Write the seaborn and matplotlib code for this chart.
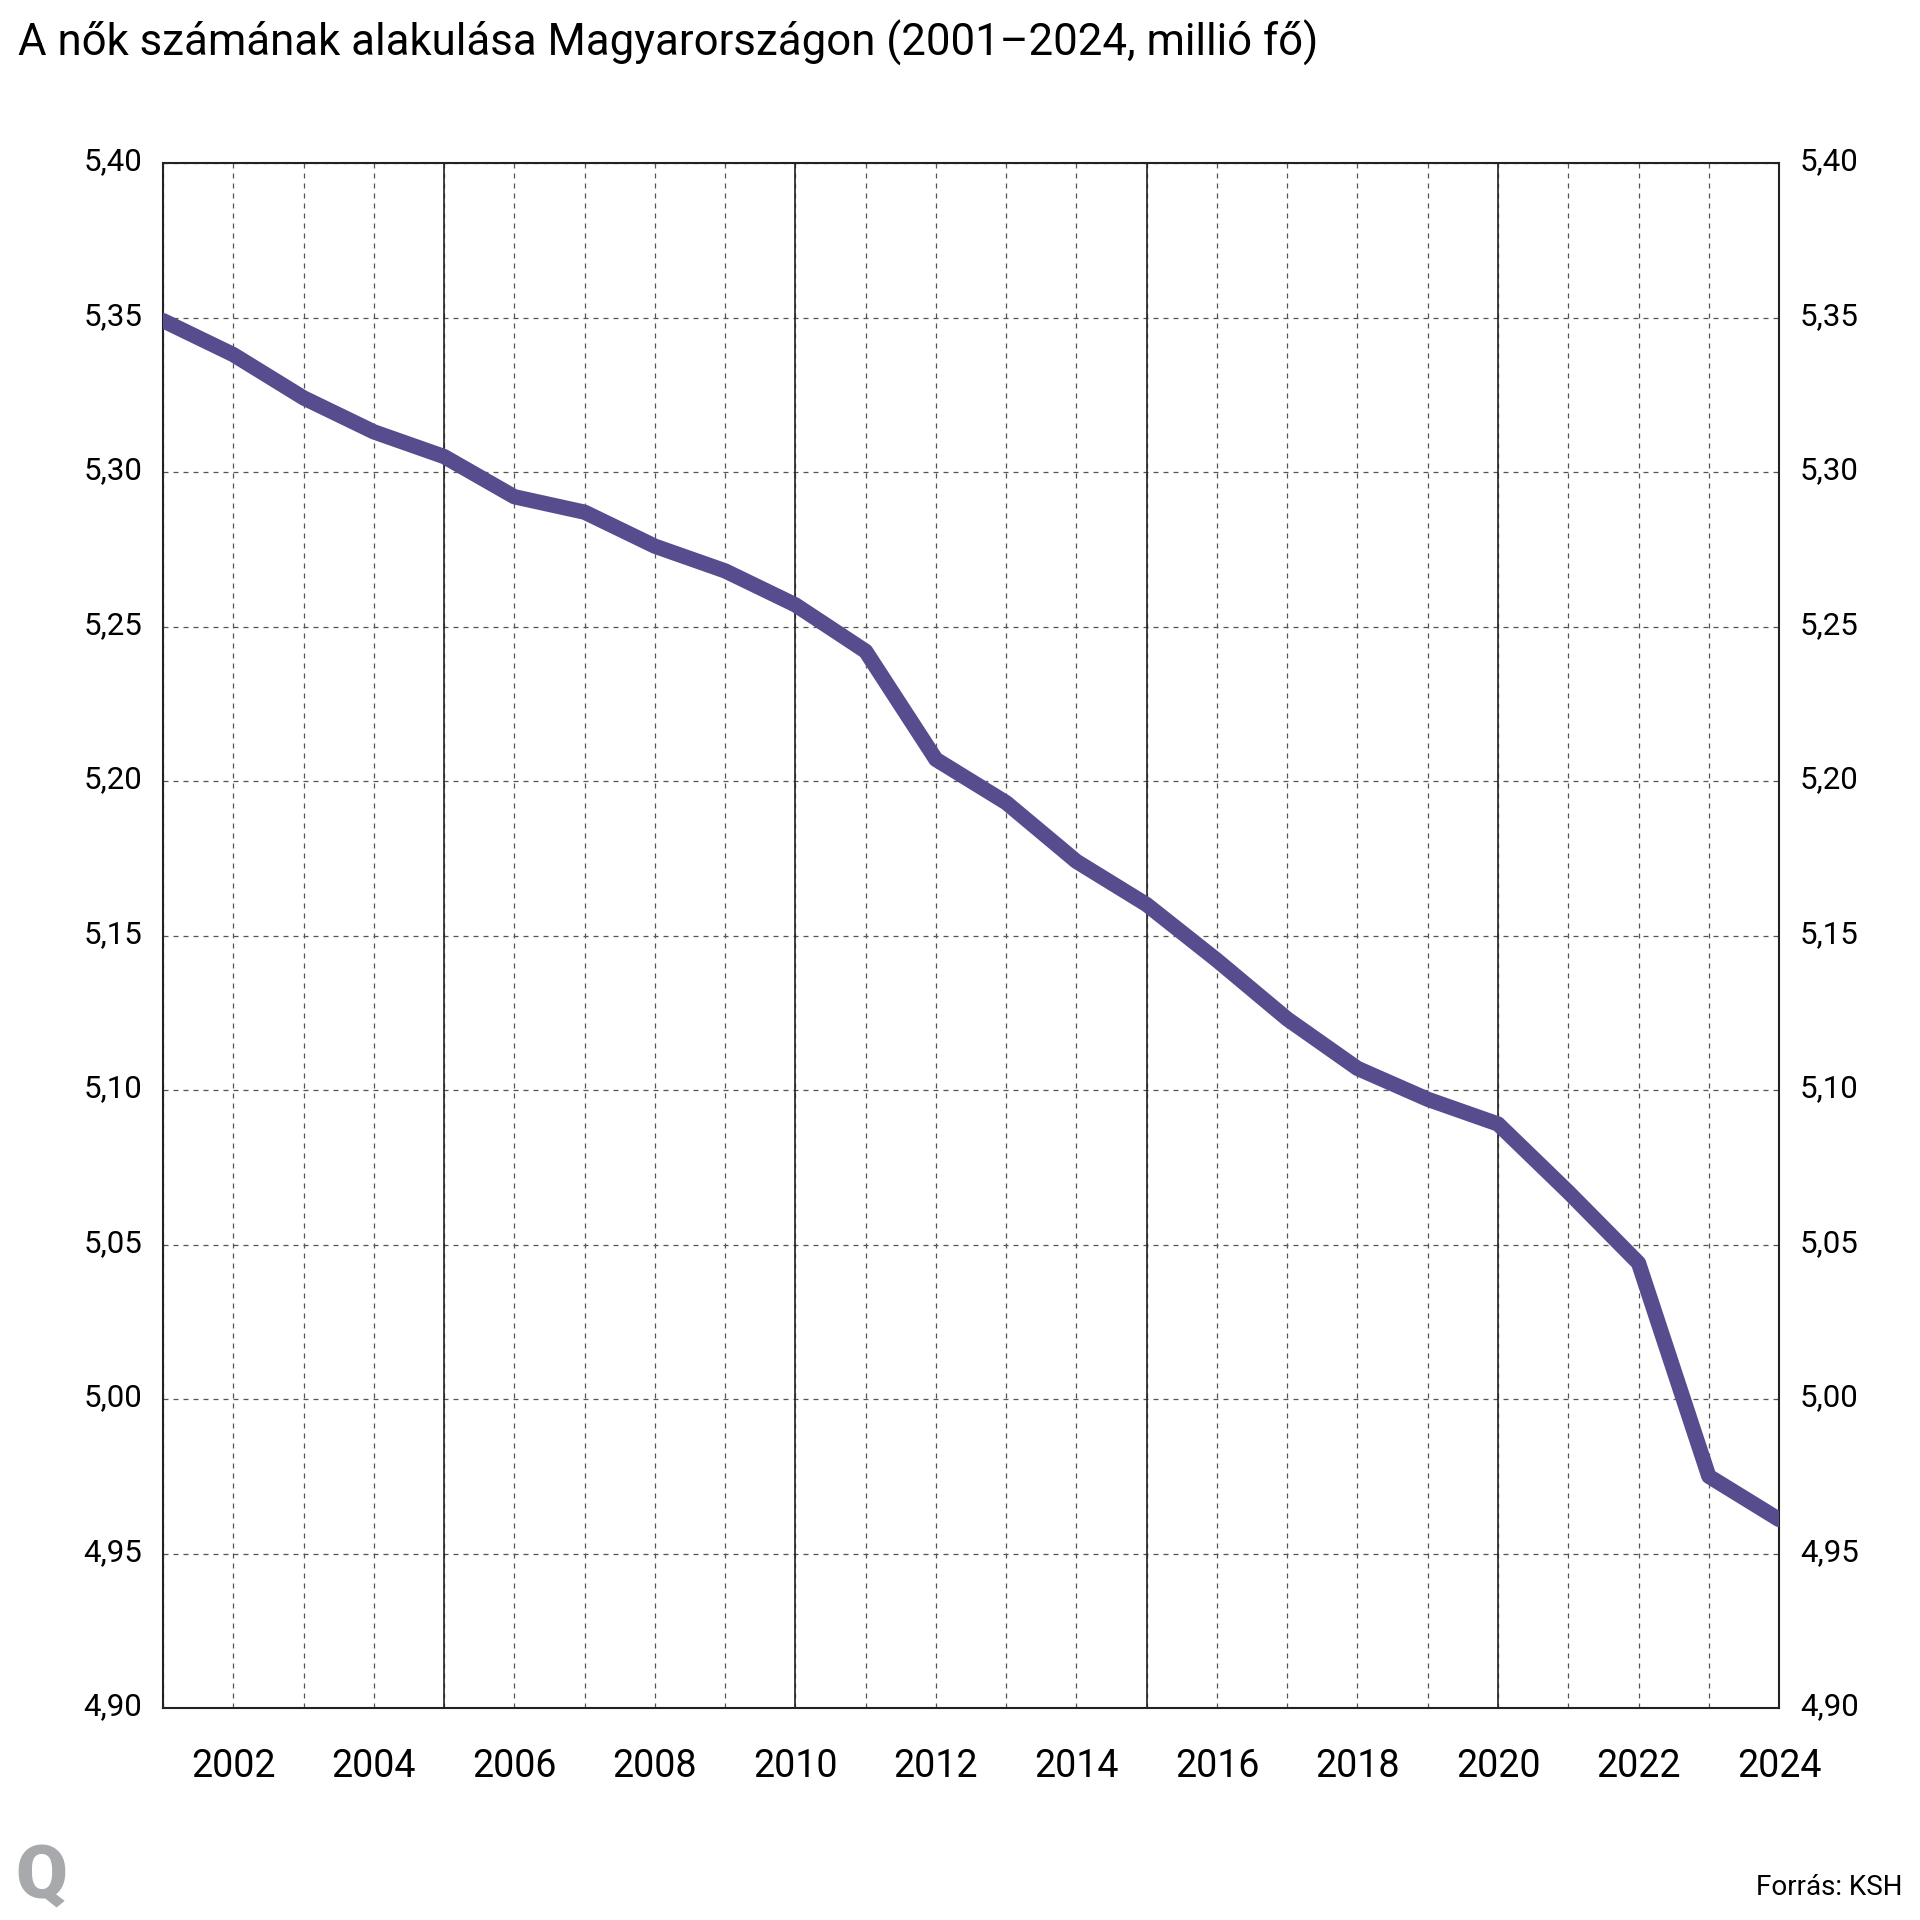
import pandas as pd
import matplotlib
matplotlib.use("Agg")
import matplotlib.pyplot as plt
import matplotlib.transforms as mtransforms
from matplotlib.ticker import FuncFormatter
import seaborn as sns

# Adatok (millió fő), leolvasva az ábráról
years = list(range(2001, 2025))
women = [5.349, 5.338, 5.324, 5.313, 5.305, 5.292, 5.287, 5.276, 5.268, 5.257,
         5.242, 5.207, 5.193, 5.174, 5.160, 5.142, 5.123, 5.107, 5.097, 5.089,
         5.067, 5.044, 4.975, 4.961]
label_years = list(range(2002, 2025, 2))
solid_years = [2005, 2010, 2015, 2020]
y_ticks = [4.90, 4.95, 5.00, 5.05, 5.10, 5.15, 5.20, 5.25, 5.30, 5.35, 5.40]

title = "A nők számának alakulása Magyarországon (2001\u20132024, millió fő)"
source = "Forrás: KSH"

df = pd.DataFrame({"ev": years, "nok": women})

sns.set_style("white")
plt.rcParams["font.family"] = ["Roboto", "DejaVu Sans"]

fig = plt.figure(figsize=(19.2, 19.2), dpi=100)
ax = fig.add_axes([0.0849, 0.1104, 0.8417, 0.8047])

# rácsvonalak
ax.set_xticks(label_years)
ax.set_xticks([y for y in years if y not in label_years], minor=True)
ax.set_yticks(y_ticks)
ax.grid(True, which="both", axis="x", color="#555555", linestyle=(0, (4, 4)), linewidth=0.9)
ax.grid(True, which="major", axis="y", color="#555555", linestyle=(0, (4, 4)), linewidth=0.9)
for yr in solid_years:
    ax.axvline(yr, color="#222222", linewidth=1.2, zorder=1.5)

sns.lineplot(data=df, x="ev", y="nok", ax=ax, color="#574c8e", linewidth=11,
             solid_capstyle="round", solid_joinstyle="round", zorder=3)

ax.set_xlim(2001, 2024)
ax.set_ylim(4.90, 5.40)
ax.set_xticks(label_years)
ax.set_xticklabels([str(y) for y in label_years])
ax.yaxis.set_major_formatter(FuncFormatter(lambda v, p: f"{v:.2f}".replace(".", ",")))
ax.set_xlabel("")
ax.set_ylabel("")

ax.tick_params(axis="x", which="both", length=0, pad=29, labelsize=27, colors="black")
ax.tick_params(axis="y", which="both", length=0, pad=15, labelsize=22.5, colors="black",
               labelleft=True, labelright=True)
# y címkék kicsit feljebb
shift = mtransforms.ScaledTranslation(0, 3 / 72, fig.dpi_scale_trans)
for t in ax.yaxis.get_major_ticks():
    t.label1.set_transform(t.label1.get_transform() + shift)
    t.label2.set_transform(t.label2.get_transform() + shift)

for s in ax.spines.values():
    s.set_visible(True)
    s.set_color("#222222")
    s.set_linewidth(1.5)

fig.text(0.0095, 0.9775, title, fontsize=31.5, ha="left", va="center", color="black")
fig.text(0.008, 0.022, "Q", fontsize=54, fontweight="black", color="#a7a9ac",
         ha="left", va="center")
fig.text(0.991, 0.017, source, fontsize=20, ha="right", va="center", color="black")

fig.savefig("out.png", dpi=100, facecolor="white")
